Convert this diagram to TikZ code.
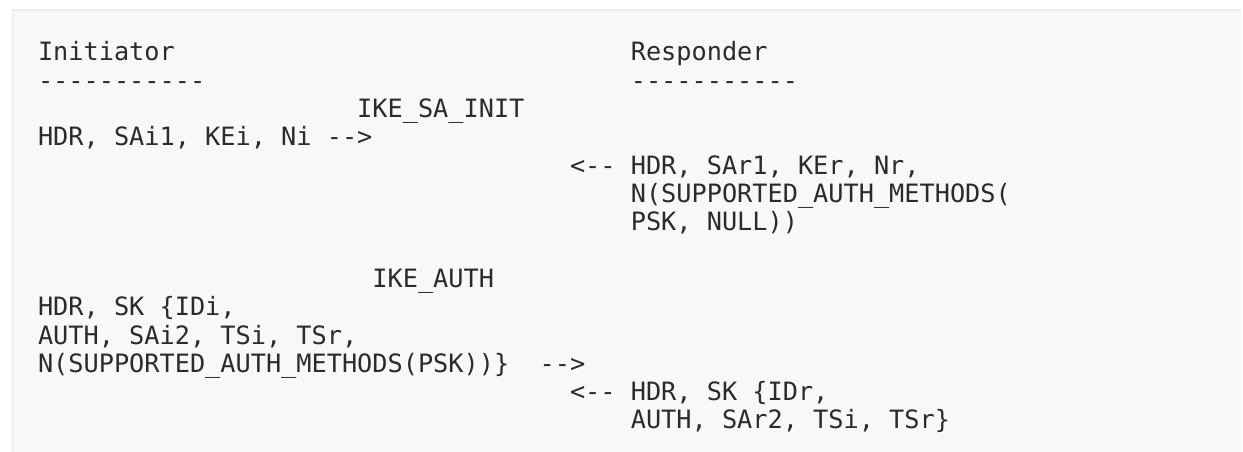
\documentclass[tikz,border=0pt]{standalone}
\usepackage{fontspec}
\setmonofont{DejaVu Sans Mono}
\definecolor{boxbg}{HTML}{F8F8F8}
\definecolor{topedge}{HTML}{EAEAEA}
\definecolor{leftedge}{HTML}{EEEEEE}
\definecolor{codetext}{HTML}{2B2B2B}
\newcommand{\cw}{15.2}
\newcommand{\lh}{28.3}
\begin{document}
\begin{tikzpicture}[x=1pt,y=1pt,
  txt/.style={anchor=base west, inner sep=0pt, outer sep=0pt,
    font=\ttfamily\fontsize{25.25}{28.3}\selectfont, text=codetext}]
\useasboundingbox (0,0) rectangle (1243,-452);
\fill[boxbg] (11.5,-9.5) rectangle (1241,-452);
\fill[topedge] (11.5,-9.5) rectangle (1241,-11.5);
\fill[leftedge] (11.5,-11.5) rectangle (13.5,-452);
% row r, column c  ->  (38 + c*cw, -(61 + r*lh))
\node[txt] (init)  at ({38+0*\cw},  {-61-0*\lh})  {Initiator};
\node[txt] (resp)  at ({38+39*\cw}, {-61-0*\lh})  {Responder};
\node[txt] (initl) at ({38+0*\cw},  {-61-1*\lh})  {-{}-{}-{}-{}-{}-{}-{}-{}-{}-{}-};
\node[txt] (respl) at ({38+39*\cw}, {-61-1*\lh})  {-{}-{}-{}-{}-{}-{}-{}-{}-{}-{}-};
\node[txt] (sainit) at ({38+21*\cw}, {-61-2*\lh}) {IKE\_SA\_INIT};
\node[txt] (m1)    at ({38+0*\cw},  {-61-3*\lh})  {HDR, SAi1, KEi, Ni -{}->};
\node[txt] (m2a)   at ({38+35*\cw}, {-61-4*\lh})  {<-{}- HDR, SAr1, KEr, Nr,};
\node[txt] (m2b)   at ({38+39*\cw}, {-61-5*\lh})  {N(SUPPORTED\_AUTH\_METHODS(};
\node[txt] (m2c)   at ({38+39*\cw}, {-61-6*\lh})  {PSK, NULL))};
\node[txt] (auth)  at ({38+22*\cw}, {-61-8*\lh})  {IKE\_AUTH};
\node[txt] (m3a)   at ({38+0*\cw},  {-61-9*\lh})  {HDR, SK \{IDi,};
\node[txt] (m3b)   at ({38+0*\cw},  {-61-10*\lh}) {AUTH, SAi2, TSi, TSr,};
\node[txt] (m3c)   at ({38+0*\cw},  {-61-11*\lh}) {N(SUPPORTED\_AUTH\_METHODS(PSK))\}~ -{}->};
\node[txt] (m4a)   at ({38+35*\cw}, {-61-12*\lh}) {<-{}- HDR, SK \{IDr,};
\node[txt] (m4b)   at ({38+39*\cw}, {-61-13*\lh}) {AUTH, SAr2, TSi, TSr\}};
\end{tikzpicture}
\end{document}
